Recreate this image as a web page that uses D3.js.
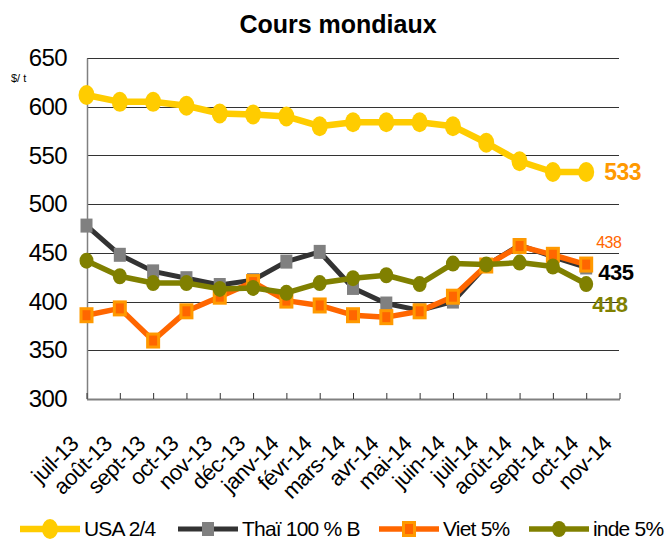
<!DOCTYPE html>
<html>
<head>
<meta charset="utf-8">
<script src="https://cdn.jsdelivr.net/npm/d3@7"></script>
<style>
  body { margin: 0; background: #fff; }
  svg { font-family: "Liberation Sans", Arial, sans-serif; }
</style>
</head>
<body>
<div id="chart"></div>
<script>
// données
const mois = ["juil-13", "août-13", "sept-13", "oct-13", "nov-13", "déc-13", "janv-14", "févr-14",
  "mars-14", "avr-14", "mai-14", "juin-14", "juil-14", "août-14", "sept-14", "oct-14", "nov-14"]
const usa = [612, 605, 605, 601, 593, 592, 590, 580, 584, 584, 584, 580, 563, 544, 533, 533]
const thai = [478, 448, 431, 424, 417, 422, 441, 451, 414, 398, 391, 400, 437, 458, 446, 435]
const viet = [386, 393, 360, 390, 405, 420, 401, 396, 386, 384, 390, 405, 437, 457, 448, 438]
const inde = [442, 426, 419, 419, 413, 414, 409, 419, 424, 427, 418, 439, 438, 440, 436, 418]
const yTicks = [300, 350, 400, 450, 500, 550, 600, 650]
const seriesNames = ["USA 2/4", "Thaï 100 % B", "Viet 5%", "inde 5%"]

const width = 668
const height = 540
const plot = { left: 87, right: 619, top: 58, bottom: 399 }

const svg = d3.select("#chart").append("svg")
  .attr("width", width)
  .attr("height", height)

//------------------------------------------------------------------------------

const x = d3.scalePoint().domain(mois).range([plot.left - 0.5, plot.right + 0.5])
const y = d3.scaleLinear().domain([300, 650]).range([plot.bottom, plot.top])

// titre
svg.append("text")
  .attr("x", 338).attr("y", 33)
  .attr("text-anchor", "middle")
  .style("font-size", "25px").style("font-weight", "bold")
  .text("Cours mondiaux")

// unité
svg.append("text")
  .attr("x", 11).attr("y", 82)
  .style("font-size", "11px")
  .text("$/ t")

// grille horizontale
svg.append("g")
  .selectAll("line")
  .data(yTicks.filter(d => d > 300))
  .join("line")
  .attr("x1", plot.left).attr("x2", plot.right)
  .attr("y1", d => Math.round(y(d)) + 0.5).attr("y2", d => Math.round(y(d)) + 0.5)
  .attr("stroke", "#333").attr("stroke-width", 1)

// axe y
const yAxis = svg.append("g")
  .attr("transform", "translate(" + plot.left + ",0)")
  .call(d3.axisLeft(y).tickValues(yTicks).tickSize(0).tickPadding(20))
yAxis.select(".domain").attr("stroke", "#808080").attr("stroke-width", 1.5)
yAxis.selectAll("text")
  .style("font-size", "24px").attr("fill", "#000")
  .attr("letter-spacing", "-0.6")

// axe x
const xAxis = svg.append("g")
  .attr("transform", "translate(0," + plot.bottom + ")")
  .call(d3.axisBottom(x).tickSize(-6).tickSizeOuter(0))
xAxis.select(".domain").attr("stroke", "#808080").attr("stroke-width", 2)
xAxis.selectAll(".tick line").attr("stroke", "#333")
xAxis.selectAll("text")
  .style("font-size", "22px").attr("fill", "#000")
  .attr("letter-spacing", "-0.4")
  .attr("text-anchor", "end")
  .attr("y", 0).attr("dy", 0)
  .attr("transform", "translate(-7,46) rotate(-45)")

//------------------------------------------------------------------------------

const line = d3.line().x((d, i) => x(mois[i])).y(d => y(d))

const series = [
  { name: seriesNames[0], values: usa, stroke: "#FFCC00", width: 6.5, marker: "ellipse" },
  { name: seriesNames[1], values: thai, stroke: "#333333", width: 5, marker: "square" },
  { name: seriesNames[2], values: viet, stroke: "#FF6600", width: 5.5, marker: "vsquare" },
  { name: seriesNames[3], values: inde, stroke: "#808000", width: 5.5, marker: "olive" }
]

function drawMarker(g, type, cx, cy) {
  if (type == "ellipse") {
    g.append("ellipse").attr("cx", cx).attr("cy", cy).attr("rx", 8).attr("ry", 10).attr("fill", "#FFCC00")
  } else if (type == "olive") {
    g.append("ellipse").attr("cx", cx).attr("cy", cy).attr("rx", 7).attr("ry", 8).attr("fill", "#808000")
  } else if (type == "square") {
    g.append("rect").attr("x", cx - 6).attr("y", cy - 7).attr("width", 12).attr("height", 14).attr("fill", "#808080")
  } else {
    g.append("rect").attr("x", cx - 5.5).attr("y", cy - 6.5).attr("width", 11).attr("height", 13)
      .attr("fill", "#FF6600").attr("stroke", "#FF9900").attr("stroke-width", 3)
  }
}

series.forEach(s => {
  const g = svg.append("g")
  g.append("path")
    .attr("d", line(s.values))
    .attr("fill", "none")
    .attr("stroke", s.stroke)
    .attr("stroke-width", s.width)
    .attr("stroke-linejoin", "round")
  s.values.forEach((v, i) => drawMarker(g, s.marker, x(mois[i]), y(v)))
})

// étiquettes des dernières valeurs
const last = usa.length - 1
const endLabels = [
  { v: usa[last], txt: usa[last], color: "#FF9900", size: 23, bold: true, dx: 18, dy: 8 },
  { v: viet[last], txt: viet[last], color: "#FF6600", size: 16, bold: false, dx: 10, dy: -17 },
  { v: thai[last], txt: thai[last], color: "#000", size: 22, bold: true, dx: 12, dy: 13 },
  { v: inde[last], txt: inde[last], color: "#808000", size: 22, bold: true, dx: 6, dy: 28 }
]
svg.append("g").selectAll("text")
  .data(endLabels)
  .join("text")
  .attr("x", d => x(mois[last]) + d.dx)
  .attr("y", d => y(d.v) + d.dy)
  .attr("fill", d => d.color)
  .style("font-size", d => d.size + "px")
  .style("font-weight", d => d.bold ? "bold" : "normal")
  .attr("letter-spacing", "-0.5")
  .text(d => d.txt)

//------------------------------------------------------------------------------

// légende
const legendX = [20, 178, 379, 529]
const legend = svg.append("g")
series.forEach((s, i) => {
  const g = legend.append("g")
  const x0 = legendX[i]
  g.append("line")
    .attr("x1", x0).attr("x2", x0 + 60)
    .attr("y1", 529).attr("y2", 529)
    .attr("stroke", s.stroke).attr("stroke-width", s.width)
  drawMarker(g, s.marker, x0 + 30, 529)
  g.append("text")
    .attr("x", x0 + 64).attr("y", 536)
    .style("font-size", "21px")
    .attr("letter-spacing", "-0.8")
    .text(s.name)
})
</script>
</body>
</html>
